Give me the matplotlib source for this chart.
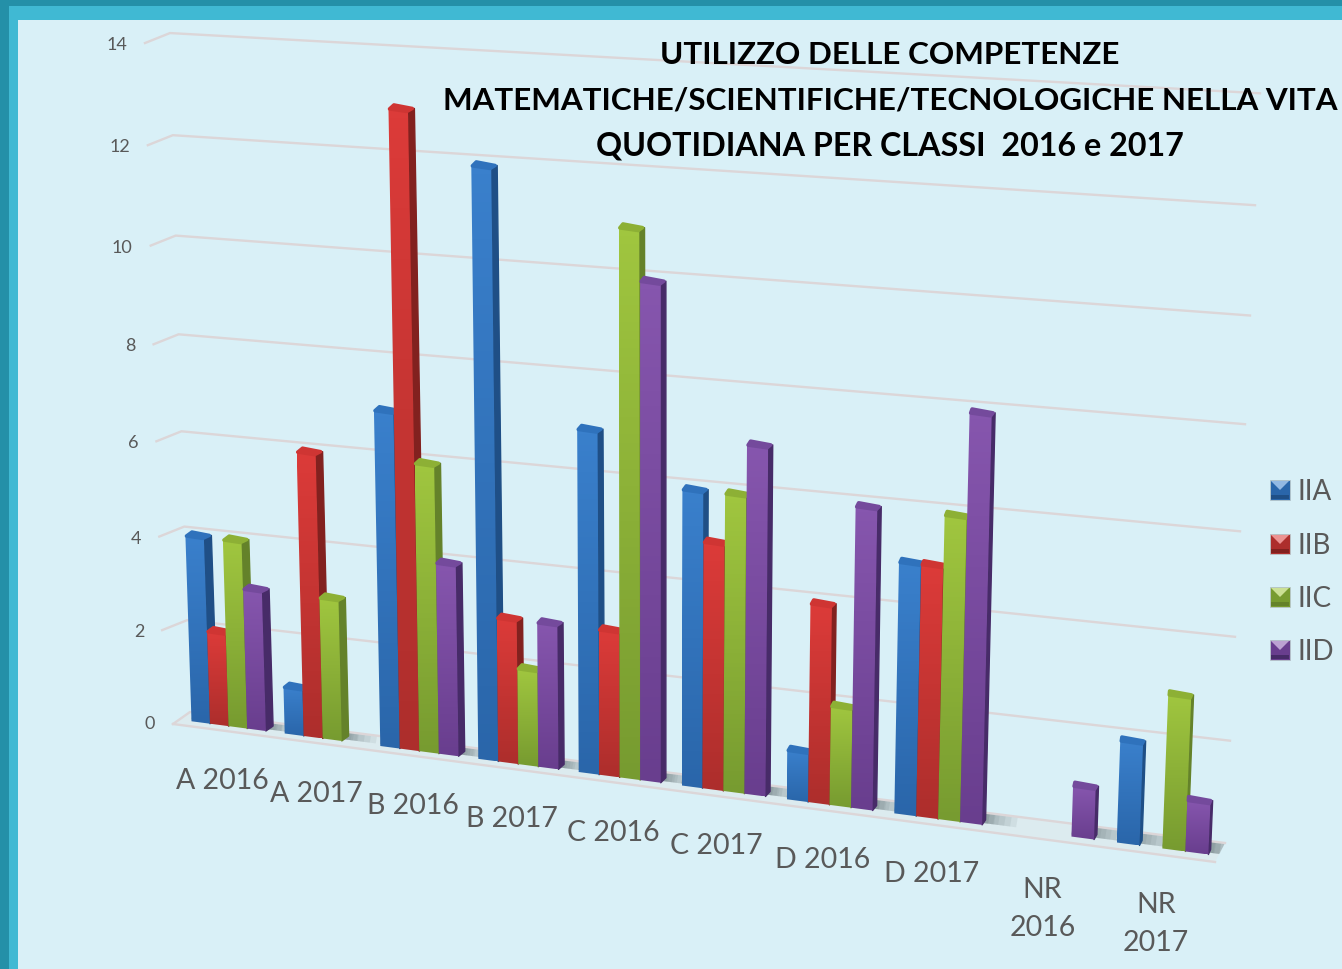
import numpy as np
import matplotlib
matplotlib.use("Agg")
import matplotlib.pyplot as plt
from matplotlib.patches import Polygon, Rectangle

categories = ["A 2016", "A 2017", "B 2016", "B 2017", "C 2016", "C 2017", "D 2016", "D 2017", "NR\n2016", "NR\n2017"]
series_names = ["IIA", "IIB", "IIC", "IID"]
iia = [4, 1, 7, 12, 7, 6, 1, 5, 0, 2]
iib = [2, 6, 13, 3, 3, 5, 4, 5, 0, 0]
iic = [4, 3, 6, 2, 11, 6, 2, 6, 0, 3]
iid = [3, 0, 4, 3, 10, 7, 6, 8, 1, 1]
y_ticks = [0, 2, 4, 6, 8, 10, 12, 14]

title_lines = ["UTILIZZO DELLE COMPETENZE",
               "MATEMATICHE/SCIENTIFICHE/TECNOLOGICHE NELLA VITA",
               "QUOTIDIANA PER CLASSI  2016 e 2017"]

# top colour, bottom colour, side, top face
colors = [("#3a80cc", "#2a66aa", "#1f4f86", "#2f72bc"),
          ("#dc3b39", "#ad2e2c", "#82211f", "#cf3533"),
          ("#a0c63f", "#779b30", "#64822a", "#8db035"),
          ("#8656ae", "#693e8e", "#472b68", "#744a9c")]

GRID = "#dcd6d8"
TEXT = "#595959"
BG = "#d9f0f7"

plt.rcParams["font.family"] = ["Lato", "DejaVu Sans"]


def group_x(u):
    # x on the front of the floor, groups get wider going right
    return 191.5 + 92 * u + 1.2 * u * u


def base_y(x):
    return 722 + 0.131 * (x - 197)


def unit(x):
    return 45.5 + 0.0052 * (x - 197)


def bar_height(x, v):
    return unit(x) * v + 0.2 * v * v


def lean(x, h):
    return 7.3e-5 * (x - 650) * h


def wall_left(v):
    return 190 - 1.43 * v, 712 - (45.5 * v + 0.214 * v * v)


def wall_right(v):
    return 1225 + 2.5 * v, 843 - (50.75 * v + 0.2 * v * v)


def gradient_poly(ax, pts, c_top, c_bottom, z):
    poly = Polygon(pts, closed=True, facecolor="none", edgecolor="none", zorder=z)
    ax.add_patch(poly)
    xs = [p[0] for p in pts]
    ys = [p[1] for p in pts]
    c0 = np.array(matplotlib.colors.to_rgb(c_top))
    c1 = np.array(matplotlib.colors.to_rgb(c_bottom))
    t = np.linspace(0, 1, 64)[:, None]
    img = (c0 * (1 - t) + c1 * t)[:, None, :]
    im = ax.imshow(img, extent=(min(xs), max(xs), max(ys), min(ys)), aspect="auto", zorder=z)
    im.set_clip_path(poly)


def draw_bar(ax, g, s, v, z):
    c_top, c_bottom, c_side, c_cap = colors[s]
    u0 = g + s * 0.2
    xl = group_x(u0)
    xr = group_x(u0 + 0.2)
    yl = base_y(xl)
    yr = base_y(xr)
    mid = (xl + xr) / 2
    h = bar_height(mid, v)
    shift = lean(mid, h)
    depth = 7.5 - 5 * (mid - 200) / 950
    tl = (xl + shift, yl - h)
    tr = (xr + shift, yr - h)
    # side face, then front, then cap
    ax.add_patch(Polygon([(xr, yr), tr, (tr[0] + depth, tr[1] - 3), (xr + depth, yr - 5)],
                         closed=True, facecolor=c_side, edgecolor=c_side, lw=1,
                         joinstyle="round", zorder=z))
    gradient_poly(ax, [(xl, yl), tl, tr, (xr, yr)], c_top, c_bottom, z + 0.1)
    ax.add_patch(Polygon([(tl[0] + 1, tl[1]), (tr[0] - 1, tr[1]), (tr[0] + depth - 2, tr[1] - 3),
                          (tl[0] + depth - 1, tl[1] - 4)],
                         closed=True, facecolor=c_cap, edgecolor=c_cap, lw=2.5,
                         joinstyle="round", zorder=z + 0.2))


def draw_shadow(ax, g, s, clip):
    u0 = g + s * 0.2
    xl = group_x(u0)
    xr = group_x(u0 + 0.2)
    for reach in [34, 28, 22, 16, 11, 6]:
        p = Polygon([(xl, base_y(xl) - 2), (xr + reach, base_y(xr + reach) - 2),
                     (xr + reach + 4, base_y(xr + reach) - 26),
                     (xl + 4, base_y(xl) - 26)],
                    closed=True, facecolor="#4f5f63", edgecolor="none", alpha=0.09, zorder=1.2)
        ax.add_patch(p)
        p.set_clip_path(clip)


fig = plt.figure(figsize=(13.42, 9.69), dpi=100)
ax = fig.add_axes([0, 0, 1, 1])
ax.axis("off")

# frame of the slide
ax.add_patch(Rectangle((0, 0), 1342, 969, facecolor="#2490a8", edgecolor="none", zorder=0))
ax.add_patch(Rectangle((9, 6), 1333, 963, facecolor="#40b9d3", edgecolor="none", zorder=0.1))
ax.add_patch(Rectangle((17.5, 20), 1325, 949, facecolor=BG, edgecolor="none", zorder=0.2))

# floor
floor = [wall_left(0), wall_right(0), (1215, 862), (173, 724)]
floor_patch = Polygon(floor, closed=True, facecolor="#dcebef", edgecolor="none", zorder=1)
ax.add_patch(floor_patch)
ax.plot([173, 1215], [724, 862], color=GRID, lw=1.7, zorder=1.5)

# grid lines on the wall and the short piece on the side wall
for v in y_ticks:
    lx, ly = wall_left(v)
    rx, ry = wall_right(v)
    ax.plot([lx - 25 if v else 173, lx, rx], [ly + 10 if v else 724, ly, ry], color=GRID, lw=1.7, zorder=1.5,
            solid_joinstyle="round")
    tx = (lx - 25 if v else 173) - 18
    ax.text(tx, ly + 12, str(v), ha="right", va="center", fontsize=13, color=TEXT, zorder=6)

table = [iia, iib, iic, iid]

for g in range(len(categories)):
    for s in range(4):
        if table[s][g] > 0:
            draw_shadow(ax, g, s, floor_patch)

z = 3
for g in range(len(categories)):
    for s in range(4):
        if table[s][g] > 0:
            draw_bar(ax, g, s, table[s][g], z)
            z += 0.5

# category labels
for g, name in enumerate(categories):
    cx = group_x(g + 0.4) - 6.5
    cy = base_y(cx + 8) + 55
    if "\n" in name:
        cy += 20
    ax.text(cx, cy, name, ha="center", va="center", fontsize=20.5, color=TEXT, linespacing=1.58, zorder=z + 1)

# title
for line, y, size in zip(title_lines, [55, 100, 146], [22.6, 22.6, 23.2]):
    ax.text(890, y, line, ha="center", va="center", fontsize=size, fontweight="bold", color="black", zorder=z + 2)

# legend
for s, (name, y) in enumerate(zip(series_names, [490, 544, 597, 650])):
    c_top, c_bottom, c_side, c_cap = colors[s]
    ax.add_patch(Rectangle((1270, y - 10), 20, 20, facecolor=c_bottom, edgecolor="#b9c8cc", lw=0.6, zorder=z))
    light = 0.55 * np.array(matplotlib.colors.to_rgb(c_top)) + 0.45
    ax.add_patch(Polygon([(1271, y - 9), (1289, y - 9), (1280, y)], closed=True, facecolor=light,
                         edgecolor="none", zorder=z + 0.1))
    ax.add_patch(Rectangle((1271, y + 5), 18, 4, facecolor=c_side, edgecolor="none", zorder=z + 0.1))
    ax.text(1298, y + 2, name, ha="left", va="center", fontsize=20, color=TEXT, zorder=z)

ax.set_xlim(0, 1342)
ax.set_ylim(969, 0)
fig.savefig("out.png", dpi=100)
